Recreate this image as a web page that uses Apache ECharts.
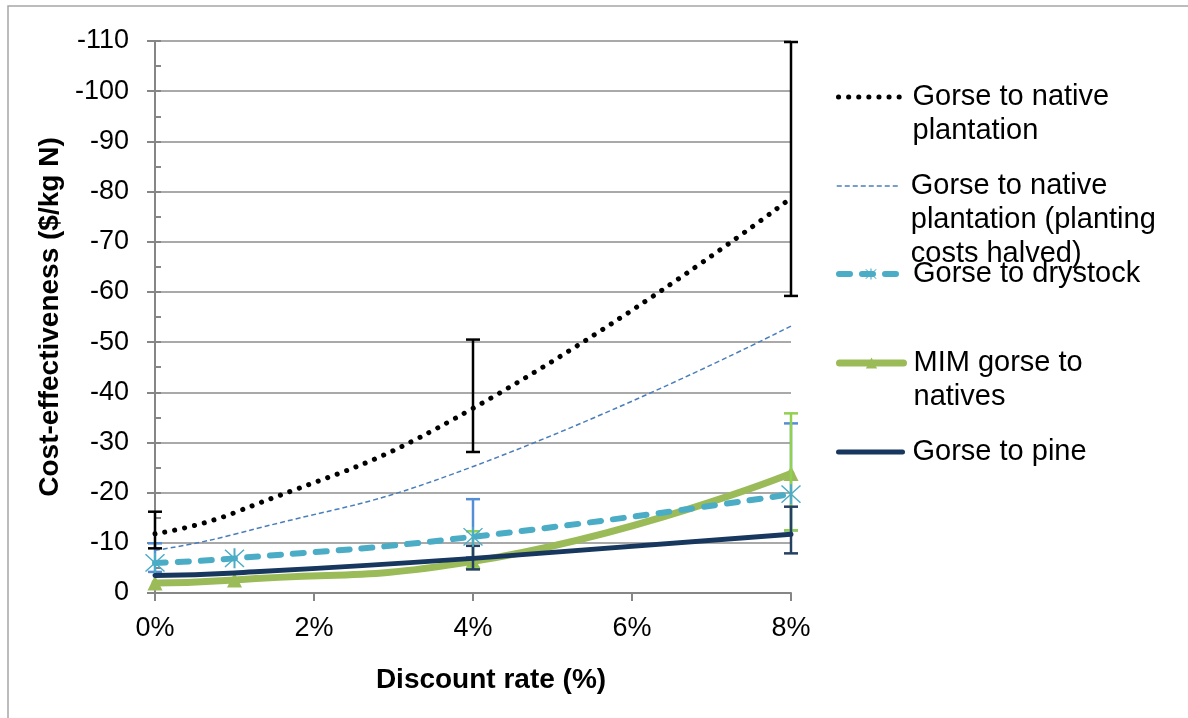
<!DOCTYPE html>
<html>
<head>
<meta charset="utf-8">
<script src="https://cdn.jsdelivr.net/npm/echarts@6/dist/echarts.min.js"></script>
<style>html,body{margin:0;padding:0;background:#fff}#c{width:1188px;height:718px}</style>
</head>
<body>
<div id="c"></div>
<script>
// ---- data ----
var discountRates = [0, 1, 4, 8];
var xTicks = [0, 2, 4, 6, 8];
var nativePlantation = [-11.8, -16.0, -36.8, -78.7];
var nativeHalved = [-8.5, -11.7, -25.2, -53.2];
var drystock = [-6.0, -6.9, -11.2, -19.7];
var mimNatives = [-2.0, -2.6, -6.3, -23.8];
var pine = [-3.5, -4.0, -6.9, -11.7];
// error bars: [x, low, high]
var errNative = [[0, -8.9, -16.2], [4, -28.1, -50.5], [8, -59.2, -109.8]];
var errDrystock = [[0, -4.2, -9.9], [4, -7.1, -18.7], [8, -12.5, -33.8]];
var errMim = [[4, -5.0, -12.3], [8, -12.5, -35.8]];
var errPine = [[4, -4.7, -9.4], [8, -7.9, -17.2]];

var names = ['Gorse to native plantation', 'Gorse to native plantation (planting costs halved)', 'Gorse to drystock', 'MIM gorse to natives', 'Gorse to pine'];
var legendText = {
  'Gorse to native plantation': '\nGorse to native\nplantation',
  'Gorse to native plantation (planting costs halved)': '\n\nGorse to native\nplantation (planting\ncosts halved)',
  'Gorse to drystock': 'Gorse to drystock',
  'MIM gorse to natives': '\nMIM gorse to\nnatives',
  'Gorse to pine': 'Gorse to pine'
};

var FONT = 'Liberation Sans, Arial, sans-serif';
function pairs(vals) { return vals.map(function (v, i) { return [discountRates[i], v]; }); }

var asterisk = 'path://M-9,-10 L10,9 L9,10 L-10,-9 Z M9,-10 L10,-9 L-9,10 L-10,9 Z M-1,-11 L1,-11 L1,11 L-1,11 Z';

function errSeries(data, color, z) {
  return {
    type: 'custom', silent: true, z: z, data: data,
    renderItem: function (params, api) {
      var x = api.value(0);
      var p1 = api.coord([x, api.value(1)]);
      var p2 = api.coord([x, api.value(2)]);
      var hw = 7;
      var st = { stroke: color, lineWidth: 2.5 };
      return { type: 'group', children: [
        { type: 'line', shape: { x1: p1[0], y1: p1[1], x2: p2[0], y2: p2[1] }, style: st },
        { type: 'line', shape: { x1: p1[0] - hw, y1: p1[1], x2: p1[0] + hw, y2: p1[1] }, style: st },
        { type: 'line', shape: { x1: p2[0] - hw, y1: p2[1], x2: p2[0] + hw, y2: p2[1] }, style: st }
      ]};
    }
  };
}

var lineStyles = [
  { color: '#000', width: 5, type: [0.1, 10], cap: 'round' },
  { color: '#4a7ebb', width: 1.5, type: [5, 3] },
  { color: '#4bacc6', width: 6, type: [11, 12], cap: 'round' },
  { color: '#9bbb59', width: 7, cap: 'round' },
  { color: '#17375e', width: 5, cap: 'round' }
];
var legendItemStyles = [
  { color: 'rgba(0,0,0,0)', borderWidth: 0 },
  { color: 'rgba(0,0,0,0)', borderWidth: 0 },
  { color: '#4bacc6', borderWidth: 0 },
  { color: '#9bbb59', borderWidth: 0 },
  { color: 'rgba(0,0,0,0)', borderWidth: 0 }
];

var legendTops = [46, 101, 257, 312, 435];
var legends = names.map(function (n, i) {
  return {
    data: [n], left: 836, top: legendTops[i], orient: 'vertical',
    itemWidth: 64, itemHeight: 14, itemGap: 0, padding: 0, selectedMode: false,
    lineStyle: lineStyles[i], itemStyle: legendItemStyles[i],
    formatter: function (name) { return legendText[name]; },
    textStyle: { fontFamily: FONT, fontSize: 29, color: '#000', lineHeight: 34, padding: [0, 0, 0, 5] }
  };
});

var chart = echarts.init(document.getElementById('c'));
chart.setOption({
  animation: false,
  backgroundColor: '#fff',
  graphic: [
    { type: 'polyline', shape: { points: [[8, 718], [8, 6], [1188, 6]] }, style: { stroke: '#a6a6a6', lineWidth: 1.5, fill: null } }
  ],
  legend: legends,
  grid: { left: 155, right: 397, top: 41, bottom: 125 },
  xAxis: {
    type: 'value', min: 0, max: 8, interval: 2,
    name: 'Discount rate (%)', nameLocation: 'middle', nameGap: 73,
    nameTextStyle: { fontFamily: FONT, fontSize: 28, fontWeight: 'bold', color: '#000', padding: [0, 0, 0, 36] },
    axisLine: { show: true, onZero: false, lineStyle: { color: '#868686', width: 2 } },
    axisTick: { show: true, length: 8, lineStyle: { color: '#868686', width: 2 } },
    axisLabel: { margin: 22, fontFamily: FONT, fontSize: 27, color: '#000', formatter: function (v) { return v + '%'; } },
    splitLine: { show: false }
  },
  yAxis: [{
    type: 'value', min: -110, max: 0, interval: 10, inverse: true,
    name: 'Cost-effectiveness ($/kg N)', nameLocation: 'middle', nameGap: 86,
    nameTextStyle: { fontFamily: FONT, fontSize: 28, fontWeight: 'bold', color: '#000' },
    axisLine: { show: true, onZero: false, lineStyle: { color: '#868686', width: 2 } },
    axisTick: { show: true, length: 8, lineStyle: { color: '#868686', width: 2 } },
    axisLabel: { margin: 26, fontFamily: FONT, fontSize: 27, color: '#000' },
    splitLine: { show: true, lineStyle: { color: '#8c8c8c', width: 1.5 } }
  }, {
    type: 'value', min: -110, max: 0, interval: 5, inverse: true, position: 'left',
    axisLine: { show: false },
    axisTick: { show: true, inside: true, length: 6, lineStyle: { color: '#868686', width: 2 } },
    axisLabel: { show: false }, splitLine: { show: false }
  }],
  series: [
    { name: names[0], type: 'line', smooth: 0.5, data: pairs(nativePlantation), symbol: 'none', z: 3,
      lineStyle: lineStyles[0], itemStyle: { color: '#000' } },
    { name: names[1], type: 'line', smooth: 0.5, data: pairs(nativeHalved), symbol: 'none', z: 3,
      lineStyle: lineStyles[1], itemStyle: { color: '#4a7ebb' } },
    errSeries(errNative, '#000', 6),
    errSeries(errDrystock, '#558ed5', 4),
    errSeries(errMim, '#92d050', 5),
    errSeries(errPine, '#254061', 5),
    { name: names[2], type: 'line', smooth: 0.5, data: pairs(drystock), symbol: asterisk, symbolSize: 20, z: 7,
      lineStyle: lineStyles[2], itemStyle: { color: '#4bacc6' } },
    { name: names[3], type: 'line', smooth: 0.5, data: pairs(mimNatives), symbol: 'triangle', symbolSize: 15, z: 4,
      lineStyle: lineStyles[3], itemStyle: { color: '#9bbb59' } },
    { name: names[4], type: 'line', smooth: 0.5, data: pairs(pine), symbol: 'none', z: 5,
      lineStyle: lineStyles[4], itemStyle: { color: '#17375e' } }
  ]
});
</script>
</body>
</html>
